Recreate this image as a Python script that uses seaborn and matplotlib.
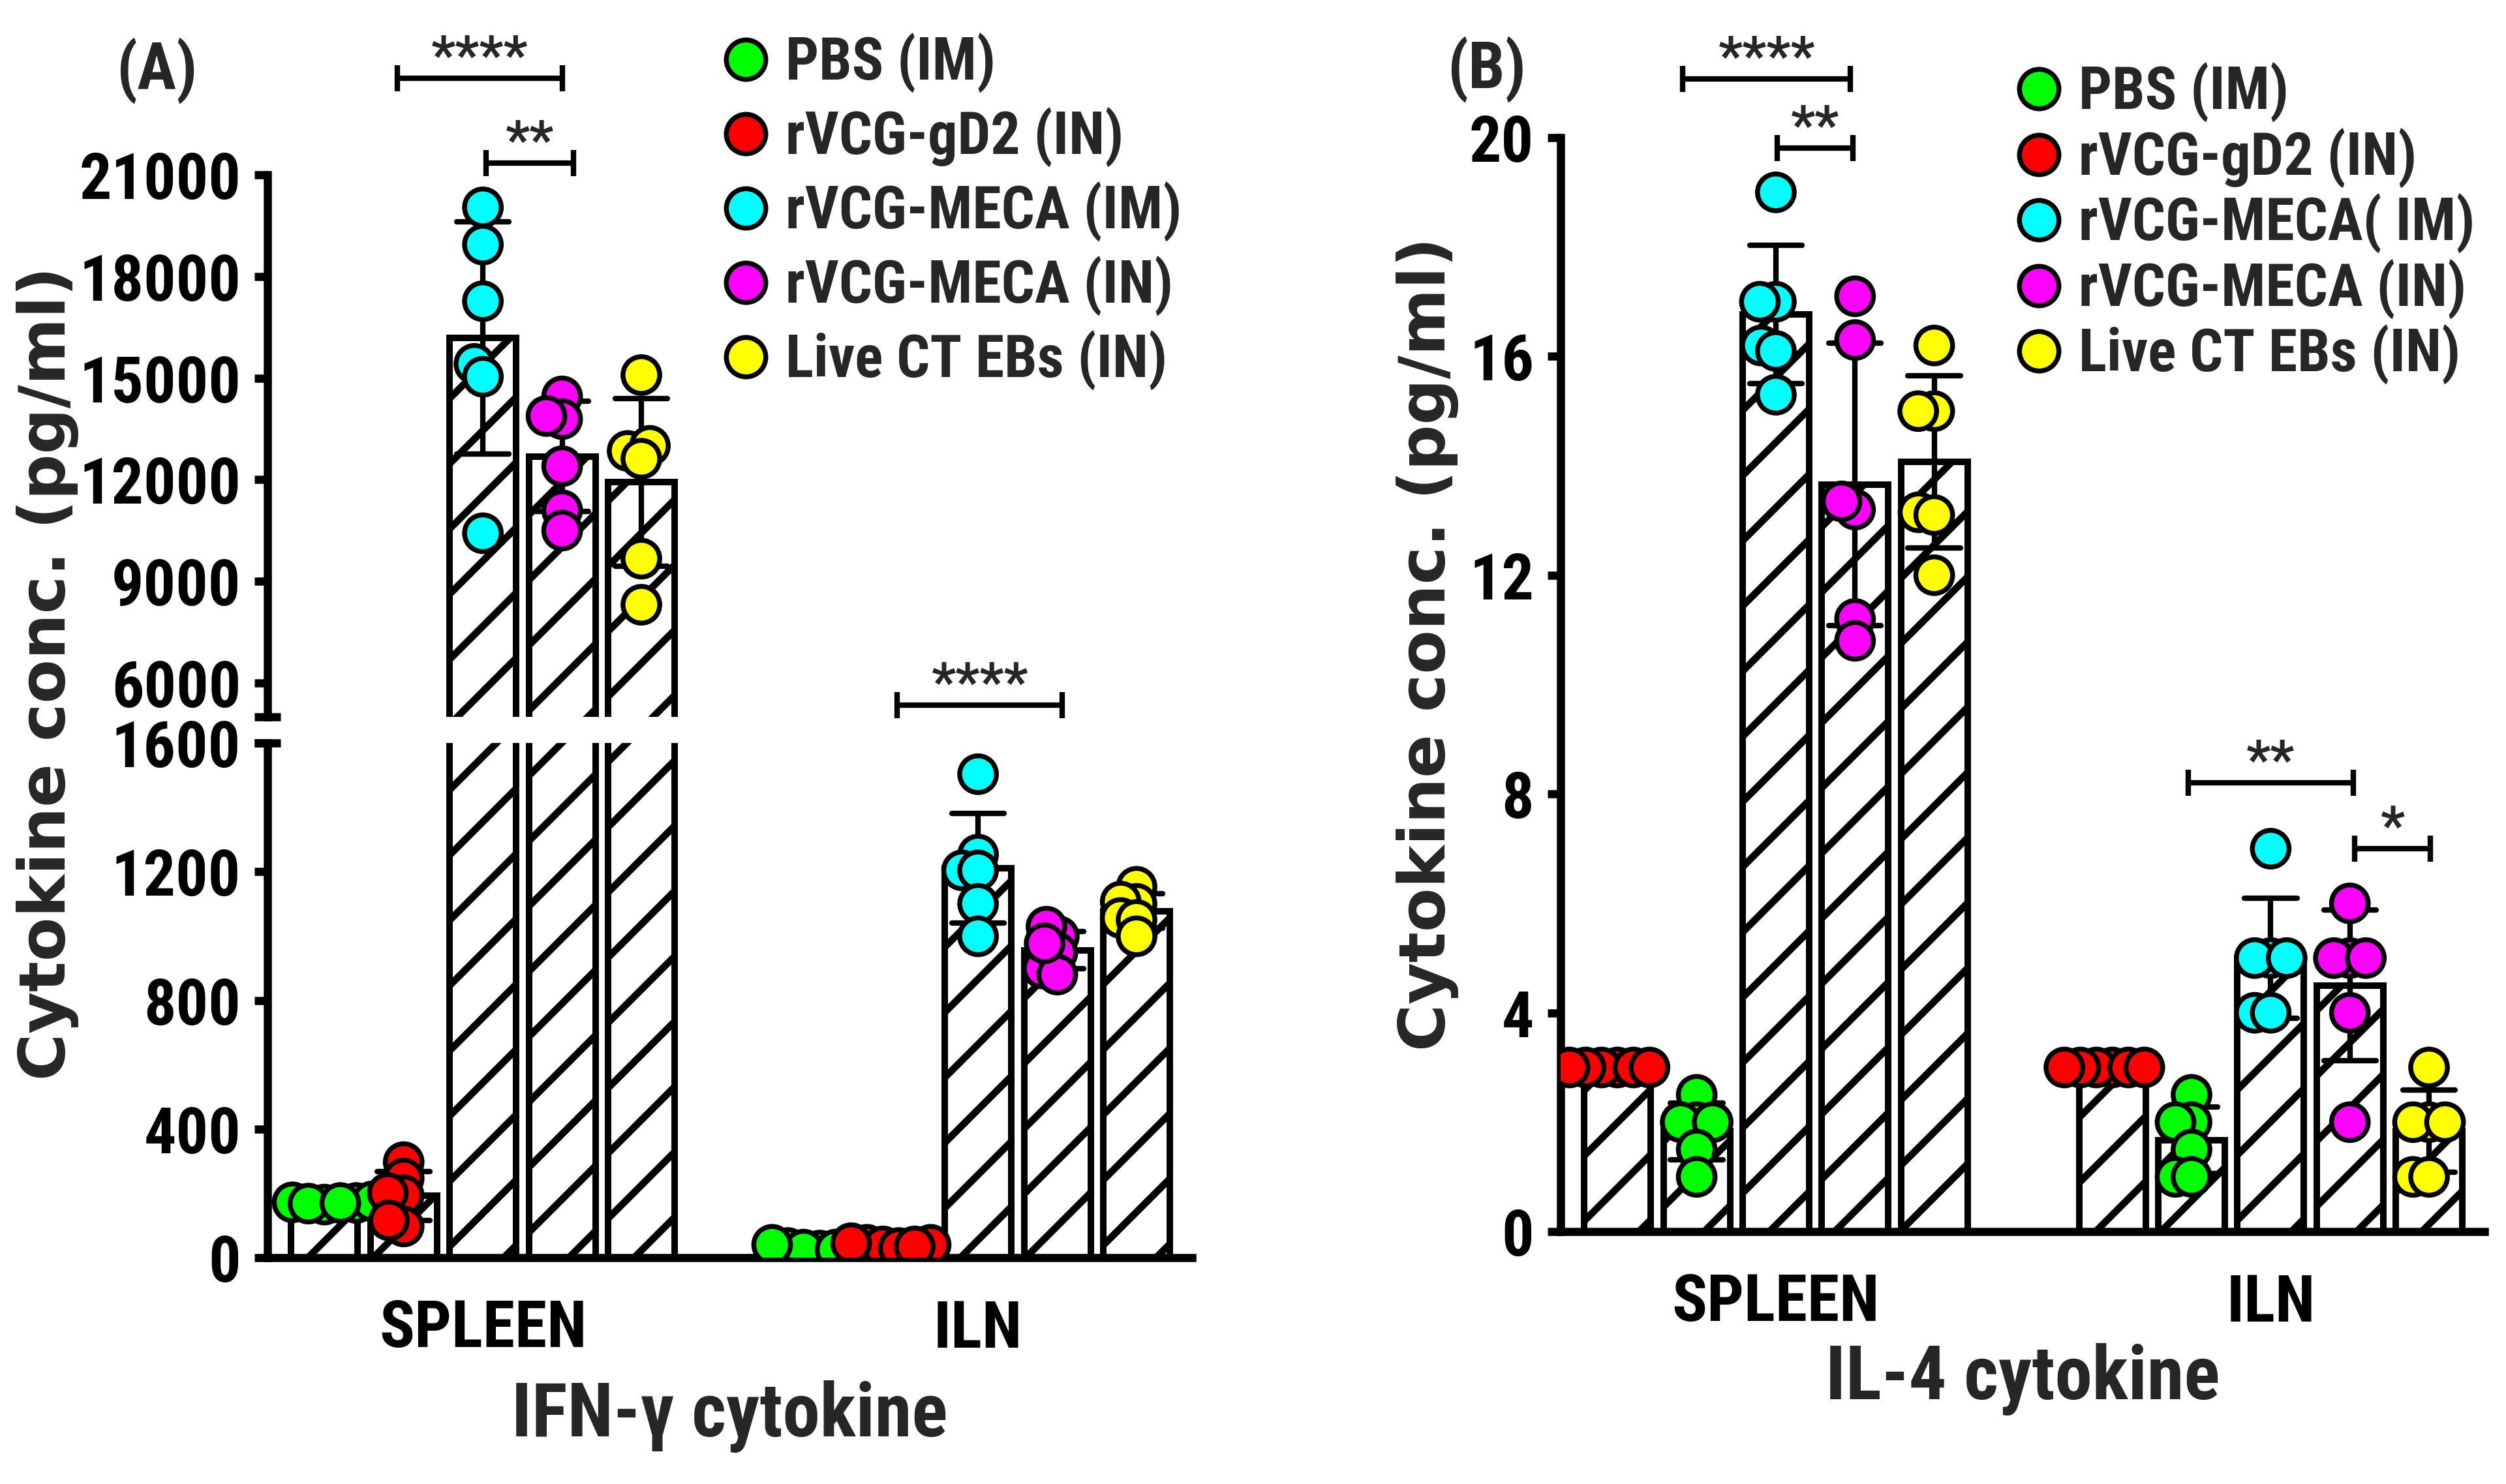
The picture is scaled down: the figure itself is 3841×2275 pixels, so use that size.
import warnings
warnings.filterwarnings("ignore")
import numpy as np
import pandas as pd
import matplotlib
matplotlib.use("Agg")
import matplotlib.pyplot as plt
from matplotlib.lines import Line2D
from matplotlib import font_manager as fm
from matplotlib.font_manager import FontProperties
from matplotlib.textpath import TextPath
import seaborn as sns

# ------------------------------------------------------------------ data
organs = ["SPLEEN", "ILN"]
groups = ["PBS (IM)", "rVCG-gD2 (IN)", "rVCG-MECA (IM)", "rVCG-MECA (IN)", "Live CT EBs (IN)"]
legend_labels_A = ["PBS (IM)", "rVCG-gD2 (IN)", "rVCG-MECA (IM)", "rVCG-MECA (IN)", "Live CT EBs (IN)"]
legend_labels_B = ["PBS (IM)", "rVCG-gD2 (IN)", "rVCG-MECA( IM)", "rVCG-MECA (IN)", "Live CT EBs (IN)"]
group_colors = ["#00FF00", "#FF0000", "#00FFFF", "#FF00FF", "#FFFF00"]
bar_order_A = ["PBS (IM)", "rVCG-gD2 (IN)", "rVCG-MECA (IM)", "rVCG-MECA (IN)", "Live CT EBs (IN)"]
bar_order_B = ["rVCG-gD2 (IN)", "PBS (IM)", "rVCG-MECA (IM)", "rVCG-MECA (IN)", "Live CT EBs (IN)"]

# IFN-gamma (pg/ml)
ifn_pbs_spleen = [170, 172, 165, 175, 168, 170]
ifn_gd2_spleen = [297, 246, 194, 201, 97, 116]
ifn_mecaim_spleen = [20040, 18940, 17270, 15420, 15040, 10420]
ifn_mecain_spleen = [14460, 13790, 13880, 12400, 11100, 10500]
ifn_ebs_spleen = [15090, 12850, 13000, 12620, 9670, 8310]
ifn_pbs_iln = [30, 22, 25, 30, 40, 25]
ifn_gd2_iln = [40, 35, 40, 30, 35, 45]
ifn_mecaim_iln = [1503, 1253, 1204, 1204, 1100, 999]
ifn_mecain_iln = [999, 1029, 948, 899, 880, 977]
ifn_ebs_iln = [1153, 1100, 1107, 1056, 1050, 999]

# IL-4 (pg/ml)
il4_pbs_spleen = [2.5, 2.0, 2.0, 2.0, 1.5, 1.0]
il4_gd2_spleen = [3.0, 3.0, 3.0, 3.0, 3.0, 3.0]
il4_mecaim_spleen = [19.0, 17.0, 17.0, 16.2, 16.1, 15.3]
il4_mecain_spleen = [17.1, 16.3, 13.2, 13.35, 11.2, 10.8]
il4_ebs_spleen = [16.2, 15.0, 15.0, 13.15, 13.1, 12.0]
il4_pbs_iln = [2.5, 2.0, 2.0, 1.5, 1.0, 1.0]
il4_gd2_iln = [3.0, 3.0, 3.0, 3.0, 3.0, 3.0]
il4_mecaim_iln = [7.0, 5.0, 5.0, 5.0, 4.0, 4.0]
il4_mecain_iln = [6.0, 5.0, 5.0, 5.0, 4.0, 2.0]
il4_ebs_iln = [3.0, 2.0, 2.0, 2.0, 1.0, 1.0]

ticks_A_low = [0, 400, 800, 1200, 1600]
ticks_A_high = [6000, 9000, 12000, 15000, 18000, 21000]
ticks_B = [0, 4, 8, 12, 16, 20]


def long_frame(series):
    rows = []
    for organ, group, vals in series:
        for v in vals:
            rows.append({"organ": organ, "group": group, "value": v})
    return pd.DataFrame(rows)


df_A = long_frame([
    ("SPLEEN", groups[0], ifn_pbs_spleen), ("SPLEEN", groups[1], ifn_gd2_spleen),
    ("SPLEEN", groups[2], ifn_mecaim_spleen), ("SPLEEN", groups[3], ifn_mecain_spleen),
    ("SPLEEN", groups[4], ifn_ebs_spleen),
    ("ILN", groups[0], ifn_pbs_iln), ("ILN", groups[1], ifn_gd2_iln),
    ("ILN", groups[2], ifn_mecaim_iln), ("ILN", groups[3], ifn_mecain_iln),
    ("ILN", groups[4], ifn_ebs_iln),
])
df_B = long_frame([
    ("SPLEEN", groups[0], il4_pbs_spleen), ("SPLEEN", groups[1], il4_gd2_spleen),
    ("SPLEEN", groups[2], il4_mecaim_spleen), ("SPLEEN", groups[3], il4_mecain_spleen),
    ("SPLEEN", groups[4], il4_ebs_spleen),
    ("ILN", groups[0], il4_pbs_iln), ("ILN", groups[1], il4_gd2_iln),
    ("ILN", groups[2], il4_mecaim_iln), ("ILN", groups[3], il4_mecain_iln),
    ("ILN", groups[4], il4_ebs_iln),
])
palette = dict(zip(groups, group_colors))

# ------------------------------------------------------------------ fonts
sns.set_style("ticks")


def _weight(entry):
    w = entry.weight
    if isinstance(w, str):
        w = fm.weight_dict.get(w, 400)
    return w


def pick_condensed():
    prefs = ["Liberation Sans Narrow", "Arial Narrow", "Roboto Condensed", "Noto Sans Condensed",
             "Open Sans Condensed", "Noto Sans", "Roboto", "Open Sans", "Lato", "Inter"]
    for name in prefs:
        for f in fm.fontManager.ttflist:
            if f.name != name or _weight(f) < 600:
                continue
            if "Narrow" in name or "Condensed" in name:
                return name, "normal"
            if str(f.stretch) in ("condensed", "semi-condensed", "extra-condensed", "ultra-condensed"):
                return name, str(f.stretch)
    return "Liberation Sans", "normal"


NARROW, STRETCH = pick_condensed()
plt.rcParams["font.family"] = [NARROW, "DejaVu Sans"]
plt.rcParams["font.stretch"] = STRETCH
plt.rcParams["font.weight"] = "bold"
plt.rcParams["axes.linewidth"] = 3
plt.rcParams["hatch.linewidth"] = 2.6
plt.rcParams["axes.edgecolor"] = "black"
plt.rcParams["xtick.color"] = "black"
plt.rcParams["ytick.color"] = "black"


def fit_size(text, target_px, max_size, family=None, stretch=None):
    prop = FontProperties(family=family or [NARROW, "DejaVu Sans"], weight="bold",
                          stretch=stretch or STRETCH, size=max_size)
    w = TextPath((0, 0), text, prop=prop).get_extents().width
    target_pt = target_px * 72 / 300
    return min(max_size, max_size * target_pt / w)


FS_YTICK = fit_size("21000", 240, 25)
FS_XTICK = fit_size("SPLEEN", 329, 24)
FS_LEG = fit_size("rVCG-MECA (IM)", 599, 22.5)
FS_XLAB = fit_size("IL-4 cytokine", 594, 28)
FS_STAR = fit_size("****", 147, 28)
FS_PANEL = fit_size("(A)", 115, 24)
FS_YLAB = fit_size("Cytokine conc. (pg/ml)", 1235, 26, family="DejaVu Sans", stretch="normal")

FIG_W, FIG_H = 3841, 2275
fig = plt.figure(figsize=(FIG_W / 300, FIG_H / 300), dpi=300)


def fx(px):
    return px / FIG_W


def fy(py):
    return 1 - py / FIG_H


ax_top = fig.add_axes([fx(410), fy(1099), fx(1827) - fx(410), fy(268) - fy(1099)])
ax_bot = fig.add_axes([fx(410), fy(1928), fx(1827) - fx(410), fy(1139) - fy(1928)])
ax_B = fig.add_axes([fx(2392), fy(1888), fx(3808) - fx(2392), fy(211) - fy(1888)])

XLIM = (-0.435, 1.432)
DOT_SIZE = 13.5          # drawn marker diameter (pt)
SWARM_LAYOUT_SIZE = 3.8  # marker size used for the swarm layout -> overlapping dots
swarm_collections = []


def draw_panel(ax, df, order):
    sns.barplot(data=df, x="organ", y="value", hue="group", order=organs, hue_order=order,
                palette={g: "white" for g in order}, errorbar="sd", capsize=0.53,
                err_kws={"color": "black", "linewidth": 2.0}, width=0.8, gap=0.16,
                edgecolor="black", linewidth=2.4, hatch="/", legend=False, ax=ax)
    n0 = len(ax.collections)
    sns.swarmplot(data=df, x="organ", y="value", hue="group", order=organs, hue_order=order,
                  palette=palette, dodge=True, size=SWARM_LAYOUT_SIZE, edgecolor="black",
                  linewidth=1.8, legend=False, zorder=3, ax=ax)
    swarm_collections.extend(ax.collections[n0:])
    ax.set_xlim(*XLIM)
    ax.set_xlabel("")
    ax.set_ylabel("")
    for s in ("top", "right"):
        ax.spines[s].set_visible(False)
    ax.tick_params(axis="y", length=4.8, width=3, pad=5, labelsize=FS_YTICK)
    ax.tick_params(axis="x", length=0, pad=15, labelsize=FS_XTICK)


draw_panel(ax_top, df_A, bar_order_A)
draw_panel(ax_bot, df_A, bar_order_A)
draw_panel(ax_B, df_B, bar_order_B)

ax_top.set_ylim(5000, 21000)
ax_top.set_yticks(ticks_A_high)
ax_top.spines["bottom"].set_visible(False)
ax_top.tick_params(axis="x", bottom=False, labelbottom=False)
ax_bot.set_ylim(0, 1600)
ax_bot.set_yticks(ticks_A_low)
ax_B.set_ylim(0, 20)
ax_B.set_yticks(ticks_B)

# axis break marks
for ax_, yy in ((ax_top, 0), (ax_bot, 1)):
    ax_.plot([-0.014, 0.014], [yy, yy], transform=ax_.transAxes, color="black", lw=3,
             clip_on=False, solid_capstyle="butt")

# labels
ax_bot.set_xlabel("IFN-\u03b3 cytokine", fontsize=FS_XLAB, fontweight="bold")
ax_bot.xaxis.set_label_coords(0.5, -0.308)
ax_bot.xaxis.label.set_va("center")
ax_B.set_xlabel("IL-4 cytokine", fontsize=FS_XLAB, fontweight="bold")
ax_B.xaxis.set_label_coords(0.5, -0.1348)
ax_B.xaxis.label.set_va("center")

ylab_font = dict(fontsize=FS_YLAB, fontweight="bold", family="DejaVu Sans", fontstretch="normal")
ax_bot.set_ylabel("Cytokine conc. (pg/ml)", **ylab_font)
ax_bot.yaxis.set_label_coords(-0.2378, 1.1356)
ax_bot.yaxis.label.set_va("center")
ax_bot.yaxis.label.set_ha("center")
ax_B.set_ylabel("Cytokine conc. (pg/ml)", **ylab_font)
ax_B.yaxis.set_label_coords(-0.144, 0.537)
ax_B.yaxis.label.set_va("center")
ax_B.yaxis.label.set_ha("center")

fig.text(fx(240), fy(108), "(A)", fontsize=FS_PANEL, fontweight="bold", ha="center", va="center")
fig.text(fx(2278), fy(106), "(B)", fontsize=FS_PANEL, fontweight="bold", ha="center", va="center")


def bracket(ax, x1, x2, y, text):
    eb = ax.errorbar((x1 + x2) / 2, y, xerr=(x2 - x1) / 2, fmt="none", ecolor="black",
                     elinewidth=2, capsize=4.8, capthick=2, zorder=5)
    _, caps, cols = eb.lines
    for c in caps:
        c.set_clip_on(False)
    for c in cols:
        c.set_clip_on(False)
    ax.annotate(text, xy=((x1 + x2) / 2, y), xytext=(0, 2), textcoords="offset points",
                ha="center", va="baseline", fontsize=FS_STAR, fontweight="bold",
                annotation_clip=False)


bracket(ax_top, -0.173, 0.161, 23846, "****")
bracket(ax_top, 0.007, 0.183, 21346, "**")
bracket(ax_top, 0.837, 1.170, 5346, "****")
bracket(ax_B, -0.188, 0.151, 21.07, "****")
bracket(ax_B, 0.003, 0.156, 19.81, "**")
bracket(ax_B, 0.833, 1.167, 8.2, "**")
bracket(ax_B, 1.170, 1.323, 7.0, "*")

# legends
leg_prop = FontProperties(family=[NARROW, "DejaVu Sans"], weight="bold", size=FS_LEG, stretch=STRETCH)
renderer = fig.canvas.get_renderer()
_probe = fig.text(0, 0, "PBS (IM)", fontproperties=leg_prop)
row_h = _probe.get_window_extent(renderer).height * 72 / 300   # pt
_probe.remove()
px2pt = 72 / 300
handles = [Line2D([], [], ls="none", marker="o", markersize=14.5, markerfacecolor=c,
                  markeredgecolor="black", markeredgewidth=1.8) for c in group_colors]
leg_kw = dict(loc="upper left", frameon=False, prop=leg_prop,
              handlelength=1.0, handletextpad=0.18, borderpad=0, borderaxespad=0)
top_A = 97 - 0.5 * row_h / px2pt
top_B = 142 - 0.5 * row_h / px2pt
fig.legend(handles, legend_labels_A, bbox_to_anchor=(fx(1098), fy(top_A)),
           labelspacing=max(0.0, (114 * px2pt - row_h) / FS_LEG), **leg_kw)
fig.legend(handles, legend_labels_B, bbox_to_anchor=(fx(3080), fy(top_B)),
           labelspacing=max(0.0, (100.5 * px2pt - row_h) / FS_LEG), **leg_kw)

# run seaborn's swarm layout with the compact layout size, then freeze it and
# show the dots at their real size (dots overlap as in the original figure)
fig.canvas.draw()
for col in swarm_collections:
    if "draw" in col.__dict__:
        del col.__dict__["draw"]
    col.set_sizes([DOT_SIZE ** 2])

fig.savefig("out.png", dpi=300)
